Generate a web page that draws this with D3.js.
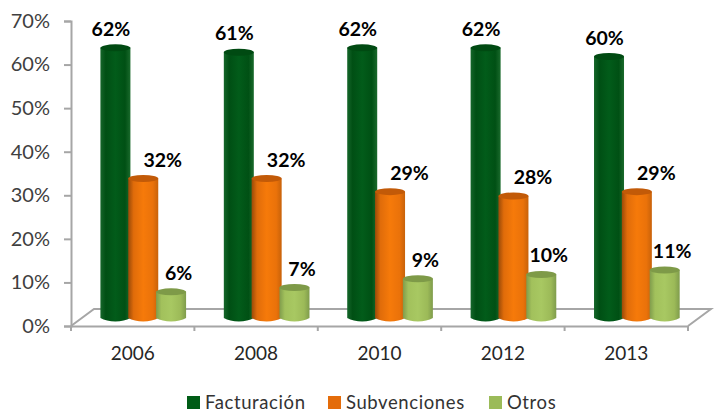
<!DOCTYPE html>
<html>
<head>
<meta charset="utf-8">
<script src="https://cdn.jsdelivr.net/npm/d3@7"></script>
<style>
  body { margin: 0; background: #fff; }
  text { font-family: Lato, sans-serif; }
</style>
</head>
<body>
<script>
/* values */
const years = ['2006', '2008', '2010', '2012', '2013'];
const seriesNames = ['Facturación', 'Subvenciones', 'Otros'];
const facturacion = [62, 61, 62, 62, 60];
const subvenciones = [32, 32, 29, 28, 29];
const otros = [6, 7, 9, 10, 11];
const yTicks = [0, 10, 20, 30, 40, 50, 60, 70];

const seriesValues = [facturacion, subvenciones, otros];
const colors = [
  { stops: ['#15662a', '#004f14', '#025c1a', '#005014', '#1a6a2c'], cap: '#004a12', key: '#005c16' },
  { stops: ['#9a4a08', '#e06c0a', '#f67a0a', '#ea720a', '#c8620a'], cap: '#c25a08', key: '#e46c0a' },
  { stops: ['#7f9c4c', '#a2c15c', '#a8c862', '#9cba58', '#7f9c4c'], cap: '#7e9a48', key: '#9bbb59' }
];

const width = 714;
const height = 412;
const margin = { top: 21, right: 26, bottom: 86, left: 71 };
const depth = { x: 23, y: -17 };
const barShift = -8;
const labelShift = [-4.5, 19.5, 7.5];

const svg = d3.select('body').append('svg')
  .attr('width', width)
  .attr('height', height)
  .style('display', 'block');

const x = d3.scaleBand().domain(years).range([margin.left, width - margin.right]);
const xBar = d3.scaleBand().domain(d3.range(3)).range([29.5, 113]).paddingInner(0);
const y = d3.scaleLinear().domain([0, 70]).range([height - margin.bottom, margin.top]);

/* gradients for the cylinders */
const defs = svg.append('defs');
colors.forEach((c, i) => {
  const grad = defs.append('linearGradient').attr('id', `cyl${i}`);
  c.stops.forEach((s, j) => {
    grad.append('stop').attr('offset', [0, 0.18, 0.5, 0.82, 1][j]).attr('stop-color', s);
  });
});

const gridColor = '#a6a6a6';

/* floor of the 3d box */
const floor = d3.path();
floor.moveTo(x.range()[0], y(0));
floor.lineTo(x.range()[0] + depth.x, y(0) + depth.y);
floor.lineTo(x.range()[1] + depth.x, y(0) + depth.y);
floor.lineTo(x.range()[1], y(0));
svg.append('path')
  .attr('d', floor.toString())
  .attr('fill', 'none')
  .attr('stroke', gridColor)
  .attr('stroke-width', 2);

/* y axis */
const yAxis = svg.append('g')
  .attr('transform', `translate(${margin.left},0)`)
  .call(d3.axisLeft(y).tickValues(yTicks).tickFormat(d => d + '%').tickSize(7).tickPadding(14));
yAxis.selectAll('path, line').attr('stroke', gridColor).attr('stroke-width', 2);
yAxis.selectAll('text').attr('font-size', 20).attr('fill', '#404040');

/* x axis, ticks sit on the band edges so they are drawn apart */
const xAxis = svg.append('g')
  .attr('transform', `translate(0,${y(0)})`)
  .call(d3.axisBottom(x).tickSizeInner(0).tickSizeOuter(0).tickPadding(21));
xAxis.select('path').attr('stroke', gridColor).attr('stroke-width', 2);
xAxis.selectAll('.tick line').remove();
xAxis.selectAll('text').attr('font-size', 19).attr('fill', '#262626');
xAxis.selectAll('.edge')
  .data(years.map(d => x(d)).concat(x.range()[1]))
  .join('line')
  .attr('class', 'edge')
  .attr('x1', d => d).attr('x2', d => d)
  .attr('y1', 0).attr('y2', 5)
  .attr('stroke', gridColor)
  .attr('stroke-width', 2);

/* bars */
const barW = 30;
const ry = 3.5;
years.forEach((year, yi) => {
  const g = svg.append('g').attr('transform', `translate(${x(year)},0)`);
  seriesValues.forEach((vals, si) => {
    const cx = xBar(si) + xBar.bandwidth() / 2 + 1;
    const rx = barW / 2;
    const top = y(vals[yi]) + barShift;
    const base = y(0) + barShift;
    const p = d3.path();
    p.moveTo(cx - rx, top);
    p.lineTo(cx - rx, base);
    p.bezierCurveTo(cx - rx / 2, base + ry * 1.3, cx + rx / 2, base + ry * 1.3, cx + rx, base);
    p.lineTo(cx + rx, top);
    p.closePath();
    g.append('path').attr('d', p.toString()).attr('fill', `url(#cyl${si})`);
    g.append('ellipse')
      .attr('cx', cx).attr('cy', top)
      .attr('rx', rx).attr('ry', ry)
      .attr('fill', colors[si].cap);
    g.append('text')
      .attr('x', cx + labelShift[si])
      .attr('y', top - 12)
      .attr('text-anchor', 'middle')
      .attr('font-size', 19.5)
      .attr('font-weight', 700)
      .attr('fill', '#000')
      .text(vals[yi] + '%');
  });
});

/* legend */
const legendX = [187, 328, 489];
const legend = svg.selectAll('.legend')
  .data(seriesNames)
  .join('g')
  .attr('class', 'legend')
  .attr('transform', (d, i) => `translate(${legendX[i]},396)`);
legend.append('rect')
  .attr('width', 13).attr('height', 13)
  .attr('fill', (d, i) => colors[i].key);
legend.append('text')
  .attr('x', 18).attr('y', 13)
  .attr('font-size', 18.5)
  .attr('letter-spacing', 0.6)
  .attr('fill', '#333')
  .text(d => d);
</script>
</body>
</html>
